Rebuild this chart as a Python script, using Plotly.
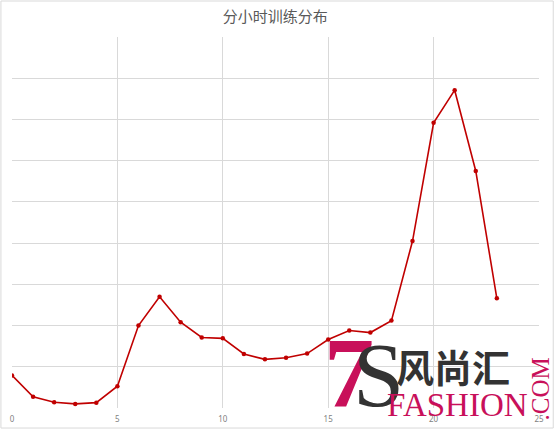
import plotly.graph_objects as go

# hourly training counts
hours = list(range(24))
counts = [79, 27, 14, 10, 13, 53, 200, 270, 208, 171, 169, 131,
          118, 122, 132, 166, 188, 183, 212, 405, 692, 771, 575, 266]
x_ticks = [0, 5, 10, 15, 20, 25]

fig = go.Figure()

fig.add_trace(go.Scatter(
    x=hours, y=counts,
    mode='lines+markers',
    line=dict(color='#C00000', width=1.6),
    marker=dict(color='#C00000', size=4.5),
    hoverinfo='x+y'
))

fig.update_layout(
    width=554, height=429,
    paper_bgcolor='white',
    plot_bgcolor='white',
    showlegend=False,
    margin=dict(l=12, r=15, t=37, b=21, autoexpand=False),
    title=dict(text='分小时训练分布', x=0.497, xanchor='center', y=0.96, yanchor='middle',
               font=dict(family='Noto Sans CJK SC', size=15, color='#595959')),
    xaxis=dict(range=[0, 25], tickvals=x_ticks, showgrid=True, gridcolor='#d9d9d9',
               gridwidth=1, zeroline=False, showline=False, automargin=False,
               ticks='outside', ticklen=3, tickcolor='rgba(0,0,0,0)',
               tickfont=dict(family='Noto Sans', size=8, color='#7f7f7f')),
    yaxis=dict(range=[0, 900], dtick=100, showgrid=True, gridcolor='#d9d9d9',
               gridwidth=1, zeroline=False, showline=False, showticklabels=False,
               automargin=False),
    shapes=[dict(type='rect', xref='paper', yref='paper',
                 x0=-0.021, x1=1.027, y0=-0.054, y1=1.097,
                 line=dict(color='#d9d9d9', width=1), fillcolor='rgba(0,0,0,0)')],
)

# watermark from the source picture
crimson = '#C8105A'
dark = '#333333'
fig.add_annotation(text='<b>7</b>', xref='paper', yref='paper', x=0.64, y=-0.06,
                   xanchor='center', yanchor='bottom', showarrow=False,
                   font=dict(family='Liberation Serif', size=100, color=crimson))
fig.add_annotation(text='S', xref='paper', yref='paper', x=0.695, y=-0.055,
                   xanchor='center', yanchor='bottom', showarrow=False,
                   font=dict(family='Liberation Serif', size=92, color=dark))
fig.add_annotation(text='<b>风尚汇</b>', xref='paper', yref='paper', x=0.837, y=0.035,
                   xanchor='center', yanchor='bottom', showarrow=False,
                   font=dict(family='Noto Sans CJK SC', size=38, color=dark))
fig.add_annotation(text='FASHION', xref='paper', yref='paper', x=0.845, y=-0.045,
                   xanchor='center', yanchor='bottom', showarrow=False,
                   font=dict(family='Liberation Serif', size=33, color=crimson))
fig.add_annotation(text='.COM', xref='paper', yref='paper', x=1.002, y=0.05,
                   xanchor='center', yanchor='middle', showarrow=False, textangle=-90,
                   font=dict(family='Liberation Serif', size=25, color=crimson))

fig.write_html("out.html", config={'displayModeBar': False},
               post_script="document.body.style.margin='0';")
